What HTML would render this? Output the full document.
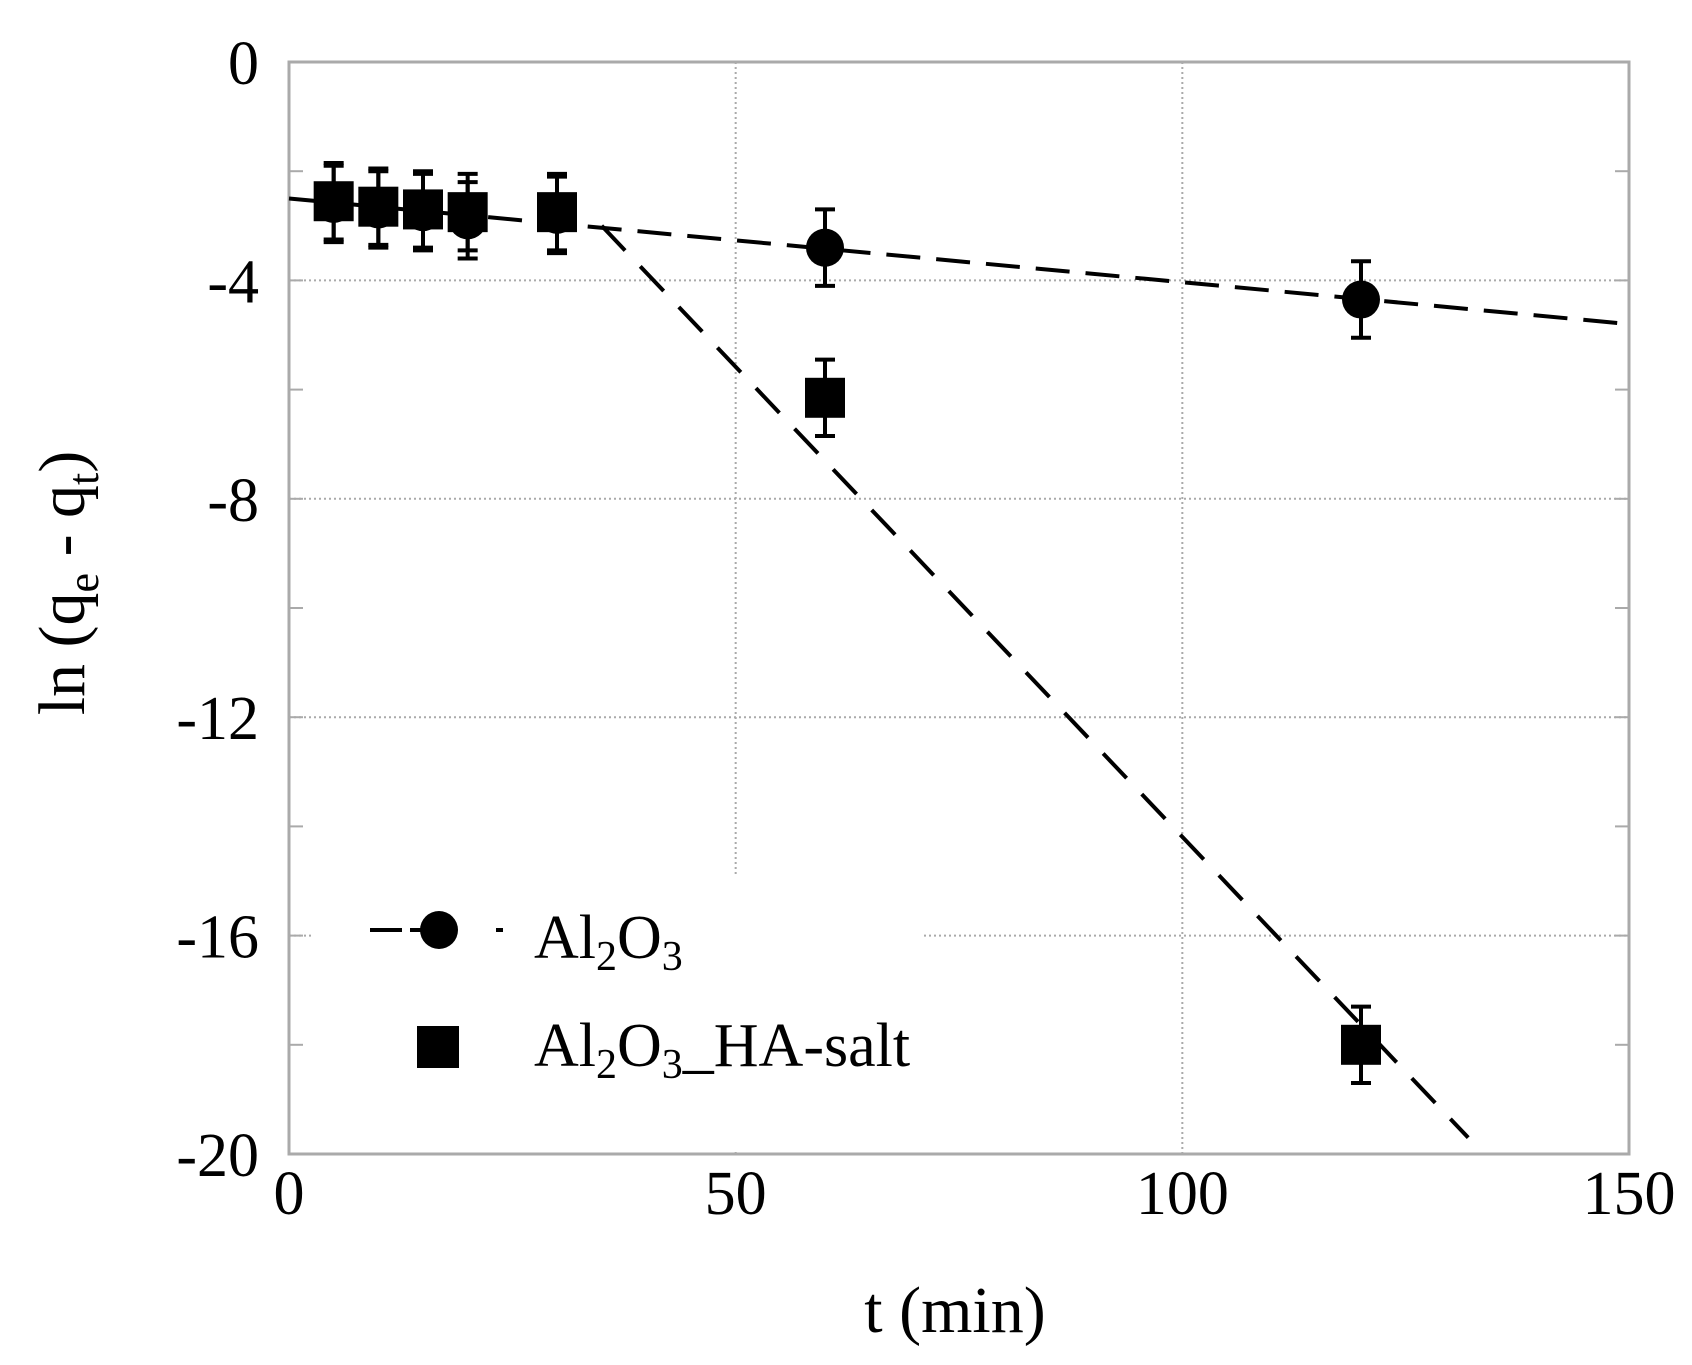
<!DOCTYPE html>
<html><head><meta charset="utf-8"><style>
html,body{margin:0;padding:0;background:#fff;}
svg{display:block;font-family:"Liberation Serif",serif;}
</style></head><body>
<svg id="chart" width="1692" height="1365" viewBox="0 0 1692 1365" xmlns="http://www.w3.org/2000/svg"></svg>
<script>
const xTicks = [0, 50, 100, 150];
const yTicks = [0, -4, -8, -12, -16, -20];
const tAl = [5, 10, 15, 20, 30, 60, 120];
const vAl = [-2.6, -2.7, -2.75, -2.9, -2.8, -3.4, -4.35];
const tHA = [5, 10, 15, 20, 30, 60, 120];
const vHA = [-2.55, -2.65, -2.7, -2.75, -2.75, -6.15, -18.0];
const errAl = [0.7, 0.7, 0.7, 0.7, 0.7, 0.7, 0.7];
const errHA = [0.7, 0.7, 0.7, 0.7, 0.7, 0.7, 0.7];
const fitAlT = [0, 150];
const fitAlV = [-2.5, -4.8];
const fitHAT = [35, 132];
const fitHAV = [-3.0, -19.7];

const L=289,R=1629,T=62,B=1154;
const sx=v=>L+(v-0)/(150-0)*(R-L);
const sy=v=>T+(0-v)/(0-(-20))*(B-T);
const svg=document.getElementById('chart');
const NS='http://www.w3.org/2000/svg';
function mk(tag,attrs,parent){const e=document.createElementNS(NS,tag);for(const k in attrs)e.setAttribute(k,attrs[k]);(parent||svg).appendChild(e);return e;}

// grid
const grid=mk('g',{});


xTicks.slice(1,-1).forEach(v=>{mk('line',{x1:sx(v),x2:sx(v),y1:T,y2:B,stroke:'#aaa','stroke-width':2,'stroke-dasharray':'2,3'},grid);});
yTicks.slice(1,-1).forEach(v=>{mk('line',{x1:L,x2:R,y1:sy(v),y2:sy(v),stroke:'#aaa','stroke-width':2,'stroke-dasharray':'2,3'},grid);});
// minor ticks
for(let v=-2;v>-20;v-=2){mk('line',{x1:L,x2:L+14,y1:sy(v),y2:sy(v),stroke:'#aaa','stroke-width':2},grid);mk('line',{x1:R-14,x2:R,y1:sy(v),y2:sy(v),stroke:'#aaa','stroke-width':2},grid);}

// legend background
const lbg=mk('rect',{x:312,y:874,width:612,height:B-874-2,fill:'#fff'});



// frame
const frame=mk('rect',{x:L,y:T,width:R-L,height:B-T,fill:'none',stroke:'#aaa','stroke-width':3});



// tick labels
xTicks.forEach(v=>{const t=mk('text',{x:sx(v),y:1214,'font-size':62,'text-anchor':'middle'});t.textContent=v;

});
yTicks.forEach(v=>{const t=mk('text',{x:259,y:sy(v)+22,'font-size':62,'text-anchor':'end'});t.textContent=v;

});

// axis titles
const xt=mk('text',{x:955,y:1332,'font-size':66,'text-anchor':'middle'});xt.textContent='t (min)';


const yt=mk('text',{x:0,y:0,'font-size':66,'text-anchor':'middle',transform:'translate(84,583) rotate(-90)'});
yt.innerHTML='ln (q<tspan font-size="44" dy="14">e</tspan><tspan dy="-14"> - q</tspan><tspan font-size="44" dy="14">t</tspan><tspan dy="-14">)</tspan>';



// fit lines
const f1=mk('line',{x1:sx(fitAlT[0]),y1:sy(fitAlV[0]),x2:sx(fitAlT[1]),y2:sy(fitAlV[1]),stroke:'#000','stroke-width':4,'stroke-dasharray':'34,16'});


const f2=mk('line',{x1:sx(fitHAT[0]),y1:sy(fitHAV[0]),x2:sx(fitHAT[1]),y2:sy(fitHAV[1]),stroke:'#000','stroke-width':4,'stroke-dasharray':'34,22'});



function errbar(x,v,e,name){const g=mk('g',{stroke:'#000','stroke-width':4});


mk('line',{x1:sx(x),x2:sx(x),y1:sy(v+e),y2:sy(v-e)},g);
mk('line',{x1:sx(x)-10,x2:sx(x)+10,y1:sy(v+e),y2:sy(v+e)},g);
mk('line',{x1:sx(x)-10,x2:sx(x)+10,y1:sy(v-e),y2:sy(v-e)},g);}
tAl.forEach((x,i)=>{errbar(x,vAl[i],errAl[i],'al2o3-error-bar');
const c=mk('circle',{cx:sx(x),cy:sy(vAl[i]),r:19,fill:'#000'});

});
tHA.forEach((x,i)=>{errbar(x,vHA[i],errHA[i],'ha-salt-error-bar');
const s=mk('rect',{x:sx(x)-20,y:sy(vHA[i])-20,width:40,height:40,fill:'#000'});

});

// legend
const lg=mk('g',{});


mk('line',{x1:370,x2:402,y1:930,y2:930,stroke:'#000','stroke-width':4},lg);
mk('line',{x1:410,x2:424,y1:930,y2:930,stroke:'#000','stroke-width':4},lg);
mk('line',{x1:496,x2:503,y1:930,y2:930,stroke:'#000','stroke-width':4},lg);
mk('circle',{cx:439,cy:930,r:19,fill:'#000'},lg);
const t1=mk('text',{x:534,y:958,'font-size':62},lg);
t1.innerHTML='Al<tspan font-size="42" dy="12">2</tspan><tspan dy="-12">O</tspan><tspan font-size="42" dy="12">3</tspan>';


mk('rect',{x:417,y:1026,width:42,height:42,fill:'#000'},lg);
const t2=mk('text',{x:534,y:1066,'font-size':62},lg);
t2.innerHTML='Al<tspan font-size="42" dy="12">2</tspan><tspan dy="-12">O</tspan><tspan font-size="42" dy="12">3</tspan><tspan dy="-12">_HA-salt</tspan>';


</script>
</body></html>
